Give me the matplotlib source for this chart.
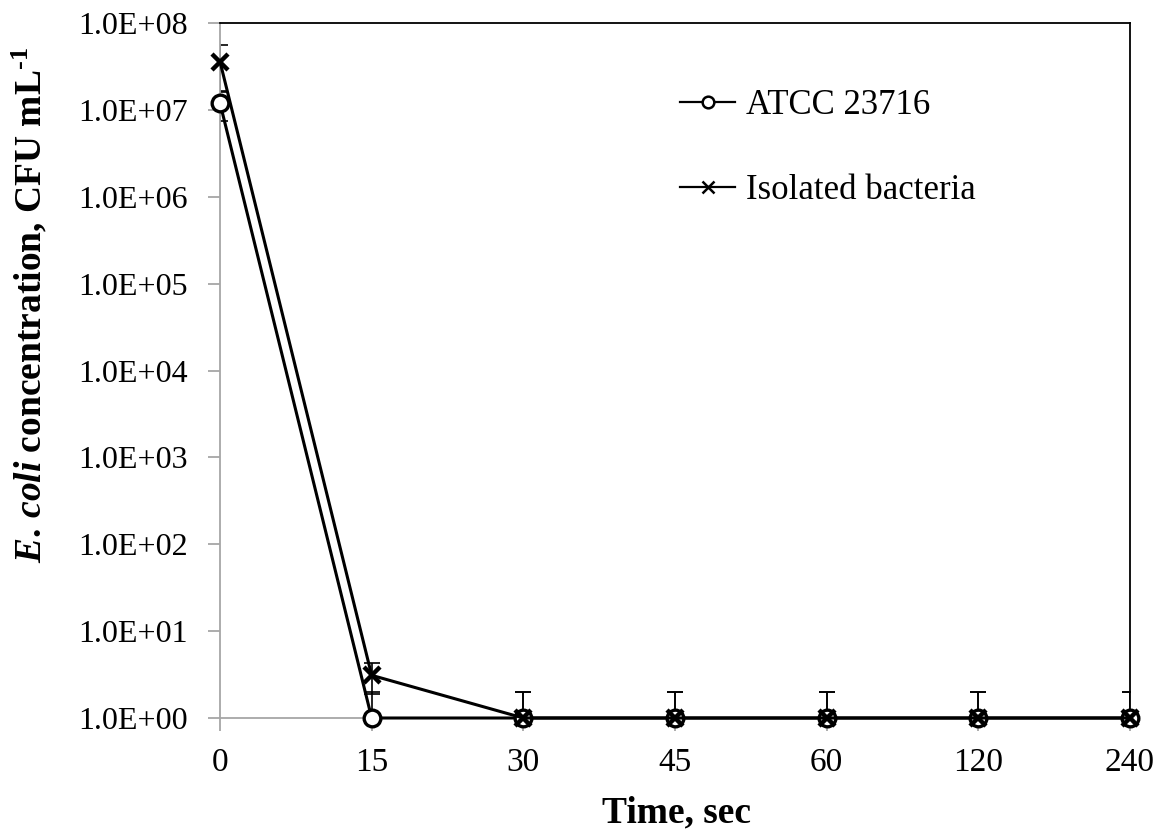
import numpy as np
import matplotlib
matplotlib.use('Agg')
import matplotlib.pyplot as plt
from matplotlib.ticker import FixedLocator, FuncFormatter, NullLocator

plt.rcParams['font.family'] = ['Liberation Serif', 'DejaVu Serif']
plt.rcParams['mathtext.fontset'] = 'custom'
plt.rcParams['mathtext.rm'] = 'Liberation Serif:bold'
plt.rcParams['mathtext.bf'] = 'Liberation Serif:bold'
plt.rcParams['mathtext.it'] = 'Liberation Serif:italic:bold'

# data
time_labels = ['0', '15', '30', '45', '60', '120', '240']
atcc_mean = [1.2e7, 1.0, 1.0, 1.0, 1.0, 1.0, 1.0]
atcc_sd = [4.6e6, 1.0, 1.0, 1.0, 1.0, 1.0, 1.0]
iso_mean = [3.6e7, 3.1, 1.0, 1.0, 1.0, 1.0, 1.0]
iso_sd = [2.0e7, 1.2, 1.0, 1.0, 1.0, 1.0, 1.0]


def err_pair(mean, sd):
    # lower bars that would reach zero are dropped on the log axis
    mean = np.asarray(mean)
    sd = np.asarray(sd)
    lower = np.where(sd < mean, sd, 0.0)
    return [lower, sd]


fig = plt.figure(figsize=(11.68, 8.36), dpi=100)
ax = fig.add_axes([220 / 1168, 1 - 718 / 836, 910 / 1168, 695 / 836])

x = np.arange(len(time_labels))

ax.errorbar(x, atcc_mean, yerr=err_pair(atcc_mean, atcc_sd), fmt='none',
            ecolor='black', elinewidth=1.2, capsize=6, capthick=1.2, zorder=2)
ax.errorbar(x, iso_mean, yerr=err_pair(iso_mean, iso_sd), fmt='none',
            ecolor='black', elinewidth=1.2, capsize=6, capthick=1.2, zorder=2)

ax.plot(x, atcc_mean, color='black', lw=2.2, marker='o', ms=12,
        mfc='white', mec='black', mew=2.4, label='ATCC 23716', zorder=3,
        clip_on=False)
ax.plot(x, iso_mean, color='black', lw=2.2, marker='x', ms=12,
        mew=3.2, label='Isolated bacteria', zorder=4, clip_on=False)

ax.set_yscale('log')
ax.set_xlim(0, len(time_labels) - 1)
ax.set_ylim(1, 1e8)

ax.xaxis.set_major_locator(FixedLocator(x))
ax.set_xticklabels(time_labels)
ax.yaxis.set_major_locator(FixedLocator([10.0 ** k for k in range(0, 9)]))
ax.yaxis.set_minor_locator(NullLocator())
ax.yaxis.set_major_formatter(FuncFormatter(lambda v, p: '1.0E+%02d' % round(np.log10(v))))

ax.tick_params(axis='x', direction='out', length=9, width=1.3, color='#a6a6a6',
               labelsize=24, pad=12)
ax.tick_params(axis='y', direction='out', length=9, width=1.3, color='#a6a6a6',
               labelsize=23, pad=14)

for side in ['left', 'bottom']:
    ax.spines[side].set_color('#a6a6a6')
    ax.spines[side].set_linewidth(1.3)
for side in ['top', 'right']:
    ax.spines[side].set_color('black')
    ax.spines[side].set_linewidth(1.3)

fig.text(30 / 1168, 1 - 305 / 836,
         r'$\mathit{E.\,coli}$ concentration, CFU mL$^{\text{-1}}$',
         rotation=90, ha='center', va='center', fontsize=27, fontweight='bold')
fig.text(676 / 1168, 1 - 813 / 836, 'Time, sec', ha='center', va='center',
         fontsize=27, fontweight='bold')

leg = ax.legend(loc='upper left', bbox_to_anchor=(0.49, 0.925), frameon=False,
                fontsize=25, markerscale=0.7, handlelength=1.6, handletextpad=0.3,
                labelspacing=1.5, borderaxespad=0)
for line in leg.get_lines():
    line.set_linewidth(1.6)
    line.set_markeredgewidth(1.8)

fig.savefig('out.png', dpi=100)
